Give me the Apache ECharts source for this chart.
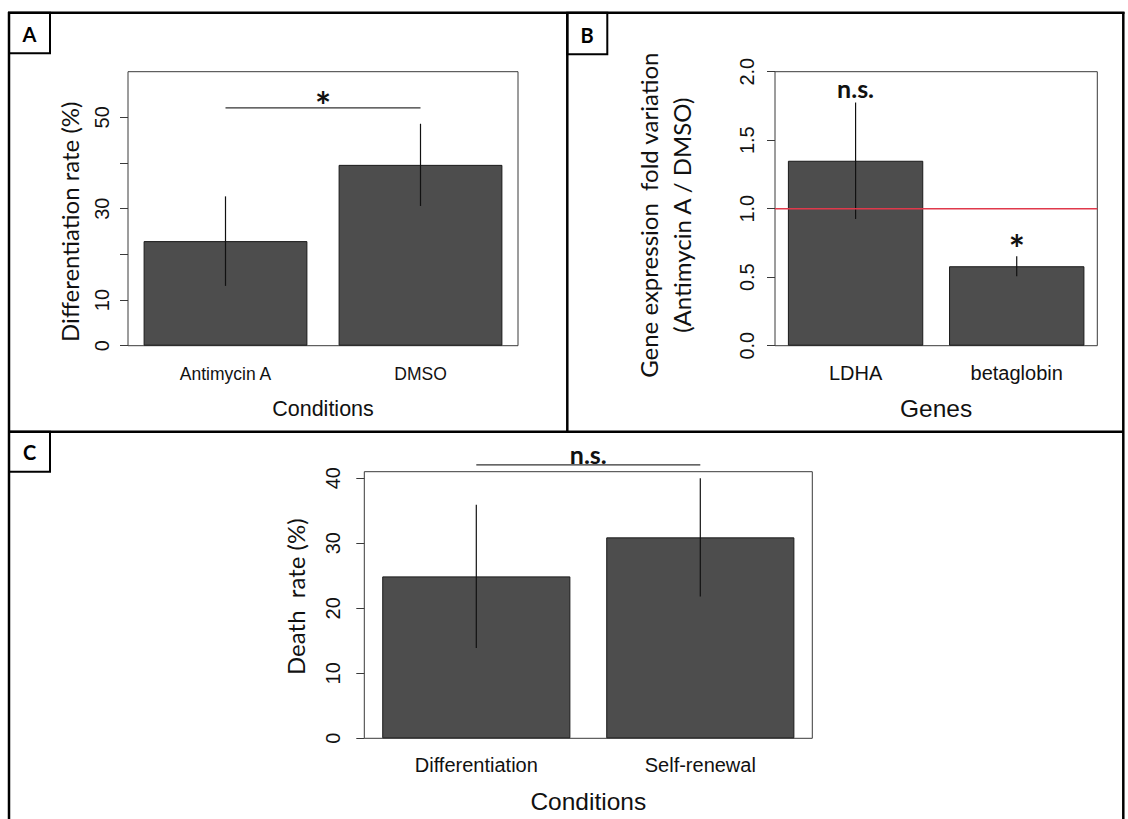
<!DOCTYPE html>
<html><head><meta charset="utf-8">
<script src="https://cdn.jsdelivr.net/npm/echarts@6/dist/echarts.min.js"></script>
<style>html,body{margin:0;padding:0;background:#fff}#c{width:1128px;height:819px}</style>
</head><body><div id="c"></div>
<script>
// ---------- data ----------
const catsA = ['Antimycin A', 'DMSO'];
const meanA = [22.9, 39.6];
const sdA = [9.8, 9.0];
const yTicksA = [0, 10, 20, 30, 40, 50];
const yLabelsA = [0, 10, 30, 50];
const sigA = { from: 0, to: 1, y: 52.1, label: '*', labelY: 54.5 };

const catsB = ['LDHA', 'betaglobin'];
const meanB = [1.35, 0.58];
const sdB = [0.425, 0.073];
const yTicksB = [0, 0.5, 1.0, 1.5, 2.0];
const refB = 1.0;
const marksB = ['n.s.', '*'];
const marksBY = [1.86, 0.777];

const catsC = ['Differentiation', 'Self-renewal'];
const meanC = [24.9, 30.9];
const sdC = [11.0, 9.1];
const yTicksC = [0, 10, 20, 30, 40];
const sigC = { from: 0, to: 1, y: 42.05, label: 'n.s.', labelY: 43.4 };

// ---------- styles ----------
const RF = "'Liberation Sans', Arial, Helvetica, sans-serif";
const PF = "Lato, 'Open Sans', sans-serif";
const BAR = '#4d4d4d', INK = '#111', BOX = '#3a3a3a';

function errBar(params, api) {
  const x = api.value(0);
  const lo = api.coord([x, api.value(1)]);
  const hi = api.coord([x, api.value(2)]);
  return { type: 'line', shape: { x1: lo[0], y1: lo[1], x2: hi[0], y2: hi[1] },
           style: { stroke: '#111', lineWidth: 1.2 } };
}
function errData(m, s) { return m.map((v, i) => [i, v - s[i], v + s[i]]); }

const gridBase = { show: true, borderColor: BOX, borderWidth: 1, backgroundColor: 'transparent', outerBoundsMode: 'none' };
const grids = [
  Object.assign({ left: 128, top: 71.7, width: 390, height: 274 }, gridBase),
  Object.assign({ left: 775, top: 71.7, width: 322.3, height: 274 }, gridBase),
  Object.assign({ left: 364.3, top: 471.7, width: 448, height: 266.6 }, gridBase)
];

function catAxis(gi, cats, fs, margin, name, nfs, ngap) {
  return { type: 'category', gridIndex: gi, data: cats,
    axisLine: { show: false, onZero: false }, axisTick: { show: false },
    axisLabel: { fontFamily: RF, fontSize: fs, color: INK, margin: margin, interval: 0 },
    name: name, nameLocation: 'middle', nameGap: ngap,
    nameTextStyle: { fontFamily: RF, fontSize: nfs, color: INK } };
}
function hidAxis(gi) { return { type: 'value', gridIndex: gi, min: -0.5, max: 1.5, show: false, axisLine: { onZero: false } }; }
function valAxis(gi, max, ticks, labels, margin, fmt, name, ngap, pad, lh) {
  return { type: 'value', gridIndex: gi, min: 0, max: max, position: 'left',
    axisLine: { show: false, onZero: false }, splitLine: { show: false },
    axisTick: { show: true, length: 8, customValues: ticks, lineStyle: { color: BOX } },
    axisLabel: { customValues: labels, rotate: 90, margin: margin, fontFamily: RF, fontSize: 20, color: INK, formatter: fmt },
    name: name, nameLocation: 'middle', nameRotate: 90, nameGap: ngap,
    nameTextStyle: { fontFamily: PF, fontSize: 24, color: INK, padding: pad, lineHeight: lh } };
}

function barSeries(xi, yi, data) {
  return { type: 'bar', xAxisIndex: xi, yAxisIndex: yi, data: data, barCategoryGap: '16%',
    itemStyle: { color: BAR, borderColor: '#1a1a1a', borderWidth: 1 }, silent: true, z: 2 };
}
function errSeries(xi, yi, m, s) {
  return { type: 'custom', xAxisIndex: xi, yAxisIndex: yi, data: errData(m, s), renderItem: errBar,
    encode: { x: 0, y: [1, 2] }, silent: true, z: 4 };
}
function hline(xi, yi, x0, x1, y, color, w) {
  return { type: 'line', xAxisIndex: xi, yAxisIndex: yi, data: [[x0, y], [x1, y]], symbol: 'none',
    lineStyle: { color: color, width: w }, clip: false, silent: true, z: 5, animation: false };
}
// star glyphs sit high in the em box: use a bigger size and push them down
function markStyle(t) {
  return t === '*' ? { fontSize: 38, offset: [0, 8.5] } : { fontSize: 25, offset: [0, -2.5] };
}
function textSeries(xi, yi, items) {
  return { type: 'scatter', xAxisIndex: xi, yAxisIndex: yi, symbolSize: 1,
    itemStyle: { color: 'rgba(0,0,0,0)' },
    data: items.map(it => ({ value: [it.x, it.y], name: it.t, label: markStyle(it.t) })),
    clip: false, silent: true, z: 6,
    label: { show: true, position: 'inside', formatter: '{b}', fontFamily: PF, fontWeight: 'bold',
             color: INK, opacity: 1 } };
}

const option = {
  animation: false,
  backgroundColor: '#fff',
  grid: grids,
  xAxis: [
    catAxis(0, catsA, 17.5, 19, 'Conditions', 21.5, 52.5), hidAxis(0),
    catAxis(1, catsB, 20, 17.6, 'Genes', 24.5, 50.4), hidAxis(1),
    catAxis(2, catsC, 20, 16.7, 'Conditions', 24.5, 51), hidAxis(2)
  ],
  yAxis: [
    valAxis(0, 60, yTicksA, yLabelsA, 16, v => String(v), 'Differentiation rate (%)', 47, [0, 26, 0, 0], 24),
    valAxis(1, 2, yTicksB, yTicksB, 18, v => Number(v).toFixed(1), 'Gene expression  fold variation\n(Antimycin A / DMSO)', 77, [0, 13, 0, 0], 33),
    valAxis(2, 41, yTicksC, yTicksC, 21, v => String(v), 'Death  rate (%)', 56.5, [0, 0, 0, 16.6], 24)
  ],
  series: [
    barSeries(0, 0, meanA), errSeries(0, 0, meanA, sdA),
    hline(1, 0, sigA.from, sigA.to, sigA.y, '#333', 1.2),
    textSeries(1, 0, [{ x: (sigA.from + sigA.to) / 2, y: sigA.labelY, t: sigA.label }]),

    barSeries(2, 1, meanB), errSeries(2, 1, meanB, sdB),
    hline(3, 1, -0.5, 1.5, refB, '#e0394b', 1.6),
    textSeries(3, 1, marksB.map((t, i) => ({ x: i, y: marksBY[i], t: t }))),

    barSeries(4, 2, meanC), errSeries(4, 2, meanC, sdC),
    hline(5, 2, sigC.from, sigC.to, sigC.y, '#333', 1.2),
    textSeries(5, 2, [{ x: (sigC.from + sigC.to) / 2, y: sigC.labelY, t: sigC.label }])
  ],
  graphic: [
    { type: 'line', shape: { x1: 8, y1: 12.7, x2: 1124.5, y2: 12.7 }, style: { stroke: '#000', lineWidth: 2.5 } },
    { type: 'line', shape: { x1: 9, y1: 12, x2: 9, y2: 830 }, style: { stroke: '#000', lineWidth: 2.5 } },
    { type: 'line', shape: { x1: 1123.3, y1: 12, x2: 1123.3, y2: 830 }, style: { stroke: '#000', lineWidth: 2.5 } },
    { type: 'line', shape: { x1: 567.3, y1: 12, x2: 567.3, y2: 431.7 }, style: { stroke: '#000', lineWidth: 2.5 } },
    { type: 'line', shape: { x1: 9, y1: 431.7, x2: 1123.3, y2: 431.7 }, style: { stroke: '#000', lineWidth: 2.5 } },
    { type: 'rect', shape: { x: 9, y: 12.7, width: 41, height: 40.6 }, style: { fill: 'none', stroke: '#000', lineWidth: 2 } },
    { type: 'rect', shape: { x: 567.3, y: 12.7, width: 40, height: 41.6 }, style: { fill: 'none', stroke: '#000', lineWidth: 2 } },
    { type: 'rect', shape: { x: 9, y: 431.7, width: 41, height: 40 }, style: { fill: 'none', stroke: '#000', lineWidth: 2 } },
    { type: 'text', x: 29.5, y: 34, style: { text: 'A', fontFamily: PF, fontWeight: 'bold', fontSize: 20, fill: '#000', textAlign: 'center', textVerticalAlign: 'middle' } },
    { type: 'text', x: 587, y: 34.5, style: { text: 'B', fontFamily: PF, fontWeight: 'bold', fontSize: 20, fill: '#000', textAlign: 'center', textVerticalAlign: 'middle' } },
    { type: 'text', x: 29.5, y: 451.7, style: { text: 'C', fontFamily: PF, fontWeight: 'bold', fontSize: 20, fill: '#000', textAlign: 'center', textVerticalAlign: 'middle' } }
  ]
};

const chart = echarts.init(document.getElementById('c'), null, { renderer: 'svg', width: 1128, height: 819 });
chart.setOption(option);
</script>
</body></html>
